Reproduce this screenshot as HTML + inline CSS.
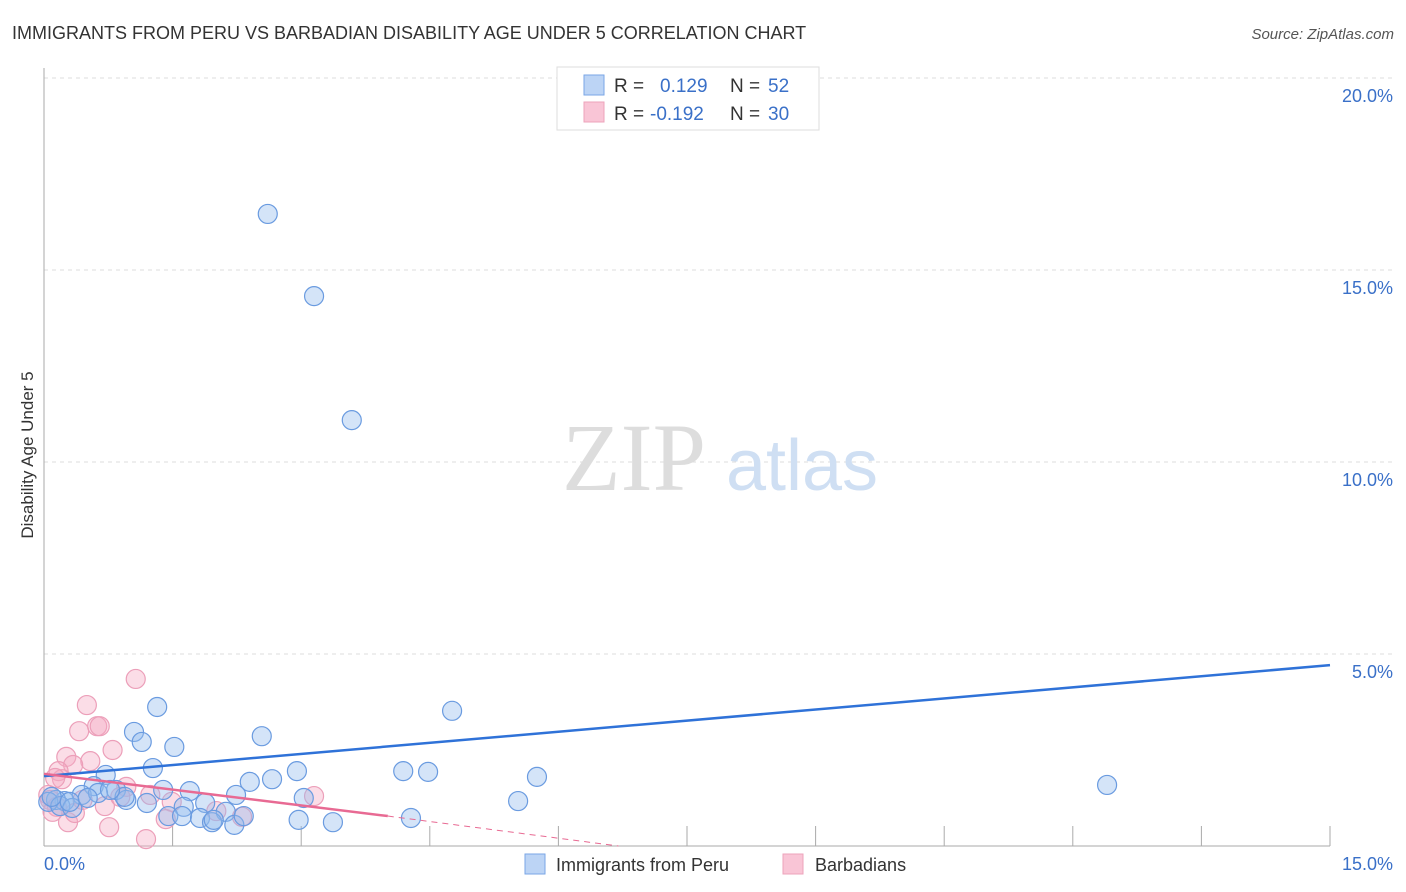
<!DOCTYPE html>
<html><head><meta charset="utf-8"><style>
body{margin:0;background:#fff;font-family:"Liberation Sans",sans-serif;}
svg{display:block}
</style></head><body>
<svg id="chart" width="1406" height="892" viewBox="0 0 1406 892" xmlns="http://www.w3.org/2000/svg">
<text x="12" y="39" font-size="18" fill="#333" font-family="Liberation Sans, sans-serif">IMMIGRANTS FROM PERU VS BARBADIAN DISABILITY AGE UNDER 5 CORRELATION CHART</text>
<text x="1394" y="39" font-size="15" fill="#555" text-anchor="end" font-style="italic">Source: ZipAtlas.com</text>
<g id="grid"></g>
<g>
<text x="634" y="490" font-size="96" fill="#ddd" text-anchor="middle" font-family="Liberation Serif, serif">ZIP</text>
<text x="802" y="490" font-size="72" fill="#cfdff3" text-anchor="middle">atlas</text>
</g>
<g id="axes"></g>
<g id="pts"></g>
<g id="trends"></g>
<text transform="translate(33,455) rotate(-90)" font-size="17" fill="#333" text-anchor="middle">Disability Age Under 5</text>
<g>
<rect x="557" y="67" width="262" height="63" fill="#fff" stroke="#ddd"/>
<rect x="584" y="75" width="20" height="20" fill="#bcd4f5" stroke="#7aa6e6"/>
<rect x="584" y="102" width="20" height="20" fill="#f9c5d6" stroke="#eda3bb"/>
<text x="614" y="92" font-size="19" fill="#333">R =</text>
<text x="660" y="92" font-size="19" fill="#3a70c8">0.129</text>
<text x="730" y="92" font-size="19" fill="#333">N =</text>
<text x="768" y="92" font-size="19" fill="#3a70c8">52</text>
<text x="614" y="120" font-size="19" fill="#333">R =</text>
<text x="650" y="120" font-size="19" fill="#3a70c8">-0.192</text>
<text x="730" y="120" font-size="19" fill="#333">N =</text>
<text x="768" y="120" font-size="19" fill="#3a70c8">30</text>
</g>
<g>
<rect x="525" y="854" width="20" height="20" fill="#bcd4f5" stroke="#7aa6e6"/>
<text x="556" y="871" font-size="18" fill="#333">Immigrants from Peru</text>
<rect x="783" y="854" width="20" height="20" fill="#f9c5d6" stroke="#eda3bb"/>
<text x="815" y="871" font-size="18" fill="#333">Barbadians</text>
</g>
</svg>
<script>
const yTicks=[5,10,15,20];
const yTickLabels=["5.0%","10.0%","15.0%","20.0%"];
const xTicks=[1.5,3,4.5,6,7.5,9,10.5,12,13.5,15];
const xEndLabels=["0.0%","15.0%"];
const peruX=[2.61,3.15,3.59,4.76,1.32,2.54,1.05,1.14,1.52,1.27,0.72,2.95,2.66,2.40,4.19,4.48,5.75,12.40,5.53,0.58,0.84,1.70,1.39,2.24,3.03,0.44,0.96,0.24,0.14,0.05,0.19,0.33,1.20,1.63,1.88,2.12,1.45,1.61,1.82,1.96,1.98,2.22,2.33,2.97,3.37,4.28,0.09,0.30,0.94,0.63,0.51,0.77];
const peruY=[16.46,14.32,11.09,3.52,3.62,2.86,2.97,2.71,2.58,2.03,1.85,1.95,1.74,1.67,1.95,1.93,1.80,1.59,1.17,1.56,1.46,1.43,1.46,1.33,1.25,1.33,1.20,1.17,1.20,1.15,1.04,0.99,1.12,1.02,1.12,0.89,0.78,0.78,0.73,0.62,0.68,0.55,0.78,0.68,0.62,0.73,1.28,1.15,1.28,1.38,1.25,1.46];
const barbX=[1.07,0.50,0.41,0.62,0.65,0.80,0.26,0.54,0.34,0.17,0.21,0.13,0.05,0.07,0.15,0.28,0.36,0.71,0.76,1.19,1.49,1.42,2.01,2.31,0.96,3.15,0.10,0.45,0.89,1.24];
const barbY=[4.35,3.67,2.99,3.12,3.12,2.50,2.32,2.21,2.11,1.95,1.74,1.77,1.33,1.20,1.02,0.62,0.86,1.04,0.49,0.18,1.15,0.70,0.91,0.76,1.54,1.30,0.89,1.20,1.28,1.33];
const peruTrendX=[0,15], peruTrendY=[1.82,4.71];
const barbTrendX=[0,4.01,6.7], barbTrendY=[1.88,0.78,0];
const NS="http://www.w3.org/2000/svg";
const sx=v=>44+v*1286/15, sy=v=>846-v*192/5;
function mk(tag,attrs,parent){const e=document.createElementNS(NS,tag);for(const k in attrs)e.setAttribute(k,attrs[k]);parent.appendChild(e);return e;}
const grid=document.getElementById('grid'),axes=document.getElementById('axes'),pts=document.getElementById('pts'),tr=document.getElementById('trends');
yTicks.forEach((t,i)=>{
 const l=mk('line',{x1:44,x2:1393,y1:sy(t),y2:sy(t),stroke:'#ddd','stroke-dasharray':'4,4'},grid);
 
 
 const tx=mk('text',{x:1393,y:sy(t)+24,'font-size':18,fill:'#3a70c8','text-anchor':'end'},grid);
 tx.textContent=yTickLabels[i];
 
 
});
mk('line',{x1:44,x2:44,y1:68,y2:846,stroke:'#aaa'},axes);
mk('line',{x1:44,x2:1330,y1:846,y2:846,stroke:'#aaa'},axes);
xTicks.forEach(t=>{
 const l=mk('line',{x1:sx(t),x2:sx(t),y1:826,y2:846,stroke:'#aaa'},axes);
 
 
});
const xl0=mk('text',{x:44,y:870,'font-size':18,fill:'#3a70c8'},axes);xl0.textContent=xEndLabels[0];


const xl1=mk('text',{x:1393,y:870,'font-size':18,fill:'#3a70c8','text-anchor':'end'},axes);xl1.textContent=xEndLabels[1];


barbX.forEach((x,i)=>{
 const c=mk('circle',{cx:sx(x),cy:sy(barbY[i]),r:9.5,fill:'rgba(244,170,195,0.4)',stroke:'#ec9fb9','stroke-width':1.2},pts);
 
 
});
peruX.forEach((x,i)=>{
 const c=mk('circle',{cx:sx(x),cy:sy(peruY[i]),r:9.5,fill:'rgba(147,187,237,0.4)',stroke:'#6a9be0','stroke-width':1.2},pts);
 
 
});
const pl=mk('line',{x1:sx(peruTrendX[0]),y1:sy(peruTrendY[0]),x2:sx(peruTrendX[1]),y2:sy(peruTrendY[1]),stroke:'#2f72d8','stroke-width':2.5},tr);


const bl=mk('line',{x1:sx(barbTrendX[0]),y1:sy(barbTrendY[0]),x2:sx(barbTrendX[1]),y2:sy(barbTrendY[1]),stroke:'#e86a93','stroke-width':2.5},tr);


const bd=mk('line',{x1:sx(barbTrendX[1]),y1:sy(barbTrendY[1]),x2:sx(barbTrendX[2]),y2:sy(barbTrendY[2]),stroke:'#e86a93','stroke-width':1,'stroke-dasharray':'6,5'},tr);


</script>
</body></html>
